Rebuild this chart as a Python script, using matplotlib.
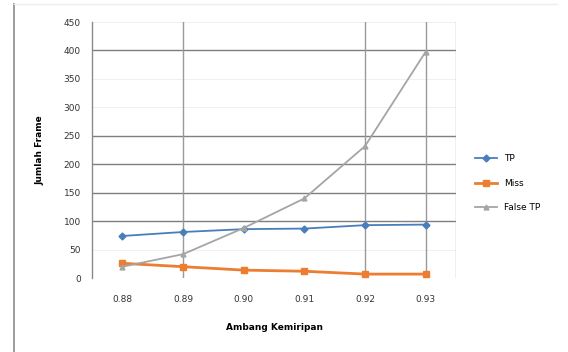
import matplotlib
matplotlib.use("Agg")
import matplotlib.pyplot as plt
import numpy as np

# Similarity thresholds and frame counts per series
thresholds = ["0.88", "0.89", "0.90", "0.91", "0.92", "0.93"]
tp = [74, 81, 86, 87, 93, 94]
miss = [26, 20, 14, 12, 7, 7]
false_tp = [20, 42, 88, 140, 232, 398]
y_ticks = [0, 50, 100, 150, 200, 250, 300, 350, 400, 450]

# Gridlines that are drawn strongly
strong_h = [100, 150, 200, 250, 400]
strong_v = ["0.89", "0.92", "0.93"]

fig = plt.figure(figsize=(5.68, 3.52), dpi=100)
fig.patch.set_facecolor("white")
ax = fig.add_axes([0.162, 0.21, 0.641, 0.7275])

x = np.arange(len(thresholds))

for yv in y_ticks:
    ax.axhline(yv, color="#eeeeee", lw=0.6, zorder=0)
for yv in strong_h:
    ax.axhline(yv, color="#7f7f7f", lw=1.0, zorder=1)
for lab in strong_v:
    ax.axvline(thresholds.index(lab), color="#9a9a9a", lw=1.0, zorder=1)
ax.axvline(len(thresholds) - 0.5, color="#b0b0b0", lw=1.0, zorder=1)

ax.plot(x, tp, color="#4a7ebb", lw=1.3, marker="D", ms=3.5, label="TP", zorder=3)
ax.plot(x, miss, color="#ed7d31", lw=2.0, marker="s", ms=5, label="Miss", zorder=3)
ax.plot(x, false_tp, color="#a5a5a5", lw=1.3, marker="^", ms=3.5, label="False TP", zorder=3)

ax.set_xlim(-0.5, len(thresholds) - 0.5)
ax.set_ylim(0, 450)
ax.set_xticks(x)
ax.set_xticklabels(thresholds)
ax.set_yticks(y_ticks)
ax.tick_params(axis="y", labelsize=6.5, length=0, pad=8, colors="#333333")
ax.tick_params(axis="x", labelsize=6.5, length=0, pad=12, colors="#333333")

for side in ["top", "right", "bottom"]:
    ax.spines[side].set_visible(False)
ax.spines["left"].set_color("#8a8a8a")
ax.spines["left"].set_linewidth(1.0)

ax.set_ylabel("Jumlah Frame", fontsize=6.5, fontweight="bold", labelpad=14)
ax.set_xlabel("Ambang Kemiripan", fontsize=6.5, fontweight="bold", labelpad=14)

ax.legend(loc="center left", bbox_to_anchor=(1.03, 0.37), frameon=False,
          fontsize=6.5, handlelength=2.4, labelspacing=1.7)

# Outer chart frame
fig.add_artist(plt.Line2D([0.025, 0.025], [0.0, 0.99], color="#8a8a8a", lw=1.2,
                          transform=fig.transFigure))
fig.add_artist(plt.Line2D([0.025, 0.98], [0.99, 0.99], color="#eeeeee", lw=1.0,
                          transform=fig.transFigure))

fig.savefig("out.png", dpi=100, facecolor="white")
